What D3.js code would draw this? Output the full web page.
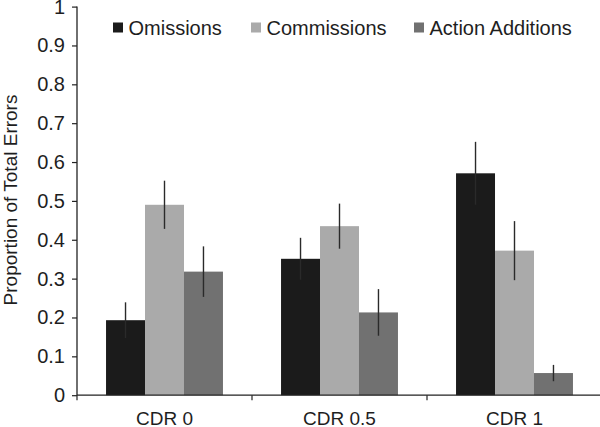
<!DOCTYPE html>
<html><head><meta charset="utf-8">
<script src="https://cdn.jsdelivr.net/npm/d3@7"></script>
<style>html,body{margin:0;padding:0;background:#fff;}svg{display:block;font-family:"Liberation Sans",Arial,sans-serif;}</style>
</head><body>
<script>
const categories = ["CDR 0", "CDR 0.5", "CDR 1"];
const seriesNames = ["Omissions", "Commissions", "Action Additions"];
const omissions = [0.193, 0.351, 0.571];
const commissions = [0.490, 0.435, 0.372];
const actionAdditions = [0.318, 0.213, 0.057];
const omissionsErr = [0.046, 0.054, 0.081];
const commissionsErr = [0.062, 0.058, 0.076];
const actionAdditionsErr = [0.065, 0.060, 0.021];
const yTicks = [0, 0.1, 0.2, 0.3, 0.4, 0.5, 0.6, 0.7, 0.8, 0.9, 1];
const colors = ["#1b1b1b", "#aaaaaa", "#717171"];

const W = 600, H = 427;
const svg = d3.select("body").append("svg").attr("width", W).attr("height", H);

const values = [omissions, commissions, actionAdditions];
const errs = [omissionsErr, commissionsErr, actionAdditionsErr];
const rows = [];
seriesNames.forEach((s, si) => categories.forEach((c, ci) => rows.push({s, c, v: values[si][ci], e: errs[si][ci], si})));

const x0 = d3.scaleBand().domain(categories).range([77, 602]).paddingInner(0).paddingOuter(0);
const x1 = d3.scaleBand().domain(seriesNames).range([0, x0.bandwidth()]).paddingInner(0).paddingOuter(0.745);
const y = d3.scaleLinear().domain([0, 1]).range([395.2, 6.6]);

// bars
svg.append("g").selectAll("rect").data(rows).join("rect")
  .attr("x", d => x0(d.c) + x1(d.s))
  .attr("width", x1.bandwidth())
  .attr("y", d => y(d.v))
  .attr("height", d => y(0) - y(d.v))
  .attr("fill", d => colors[d.si]);

// error bars
svg.append("g").selectAll("line").data(rows).join("line")
  .attr("x1", d => x0(d.c) + x1(d.s) + x1.bandwidth() / 2)
  .attr("x2", d => x0(d.c) + x1(d.s) + x1.bandwidth() / 2)
  .attr("y1", d => y(d.v + d.e))
  .attr("y2", d => y(d.v - d.e))
  .attr("stroke", "#2a2a2a").attr("stroke-width", 1.4);

// y axis
const yAxis = svg.append("g").attr("transform", "translate(77,0)")
  .call(d3.axisLeft(y).tickValues(yTicks).tickFormat(d3.format("~g")).tickSize(5).tickPadding(7));
yAxis.select(".domain").attr("stroke", "#222").attr("stroke-width", 1.3).attr("d", `M0,${y(1)}V${y(0)}`);
yAxis.selectAll(".tick line").attr("stroke", "#222").attr("stroke-width", 1.2);
yAxis.selectAll(".tick text").attr("font-size", 20).attr("fill", "#1e1e1e").attr("font-family", "Liberation Sans, Arial, sans-serif");

// x axis
const xAxis = svg.append("g").attr("transform", `translate(0,${y(0)})`)
  .call(d3.axisBottom(x0).tickSize(0).tickFormat(""));
xAxis.select(".domain").attr("stroke", "#222").attr("stroke-width", 1.3).attr("d", `M77,0H602`);
const bounds = [...categories.map(c => x0(c)), x0.range()[1]];
xAxis.selectAll(".btick").data(bounds).join("line").attr("class", "btick")
  .attr("x1", d => d).attr("x2", d => d).attr("y1", 0).attr("y2", 5)
  .attr("stroke", "#222").attr("stroke-width", 1.2);
svg.append("g").selectAll("text").data(categories).join("text")
  .attr("x", d => x0(d) + x0.bandwidth() / 2)
  .attr("y", 424.5)
  .attr("text-anchor", "middle").attr("font-size", 19).attr("fill", "#1e1e1e")
  .text(d => d);

// y label
svg.append("text")
  .attr("transform", "translate(16.5,200) rotate(-90)")
  .attr("text-anchor", "middle").attr("font-size", 19).attr("fill", "#1e1e1e")
  .text("Proportion of Total Errors");

// legend
const legendX = [113, 251, 414];
const lg = svg.append("g").selectAll("g").data(seriesNames).join("g")
  .attr("transform", (d, i) => `translate(${legendX[i]},0)`);
lg.append("rect").attr("x", 0).attr("y", 22.5).attr("width", 10).attr("height", 10)
  .attr("fill", (d, i) => colors[i]);
lg.append("text").attr("x", 15.5).attr("y", 35).attr("font-size", 20).attr("fill", "#1e1e1e").text(d => d);
</script>
</body></html>
